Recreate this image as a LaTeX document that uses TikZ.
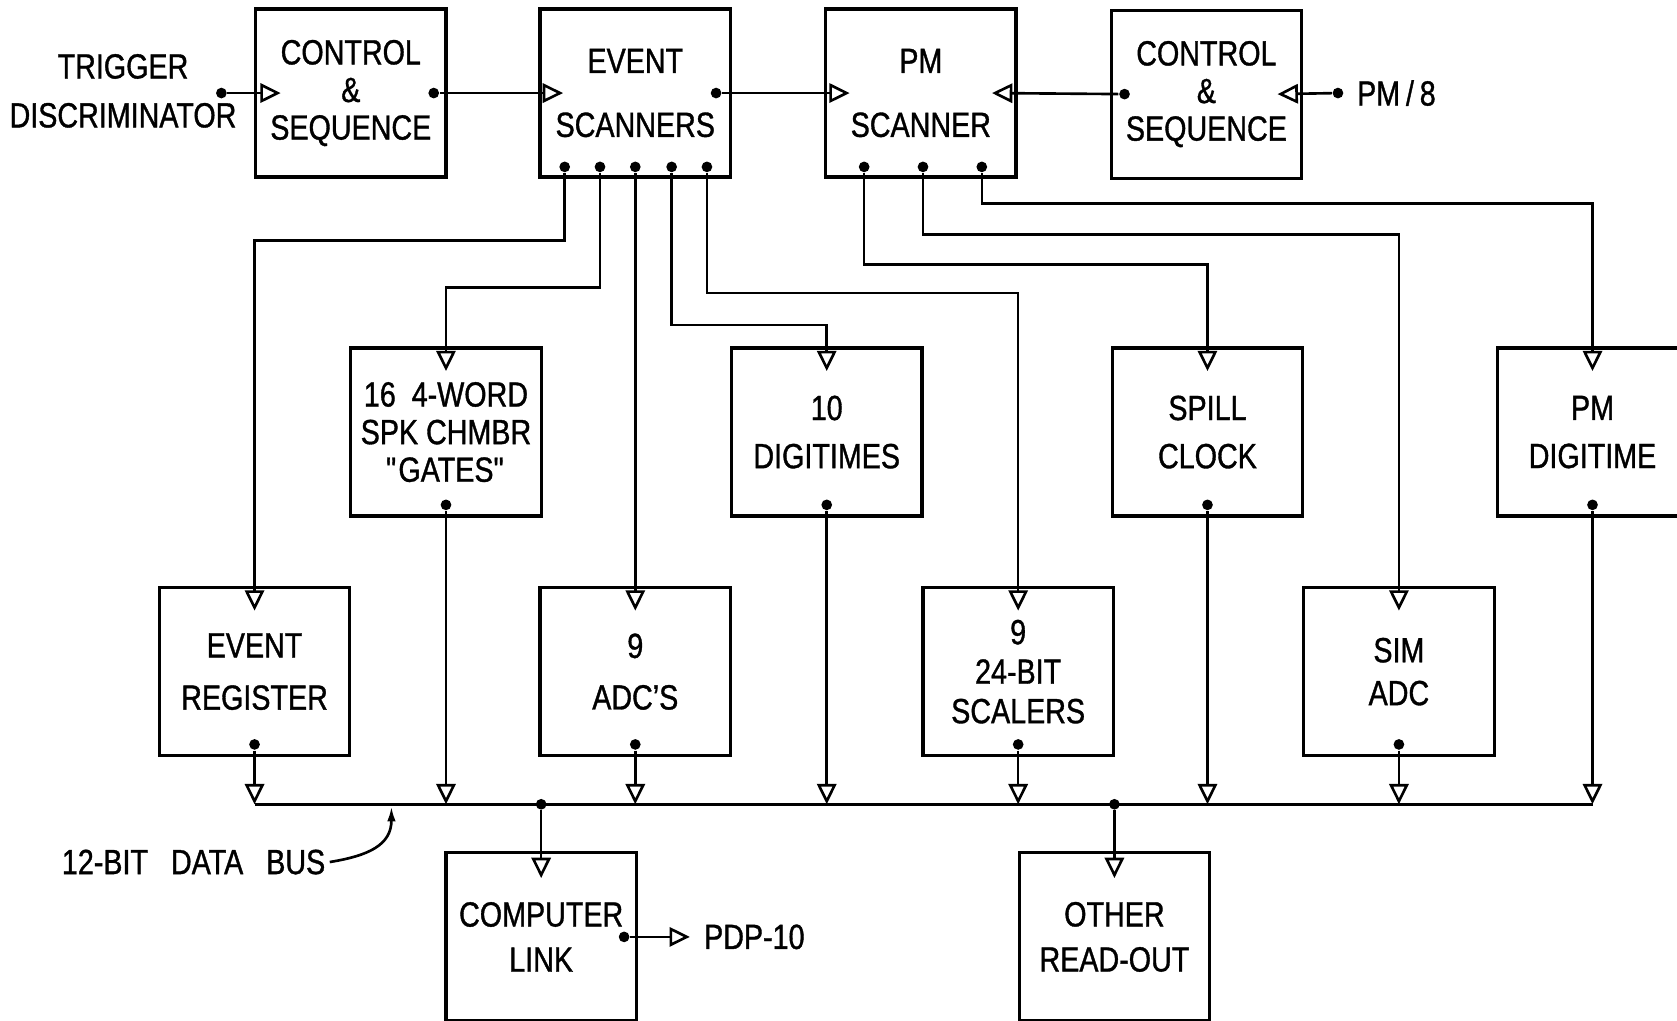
\documentclass[tikz,border=0pt]{standalone}
\usepackage{fontspec}
\setmainfont{Liberation Sans}[FakeStretch=0.82, FakeBold=1]
\usetikzlibrary{positioning, arrows.meta, calc}

\begin{document}
\begin{tikzpicture}[x=0.01cm, y=-0.01cm,
  box/.style={draw, line width=0.85pt, minimum width=1.78cm, minimum height=1.57cm, inner sep=0pt, align=center, font=\fontsize{9.3}{10}\selectfont},
  lbl/.style={inner sep=1pt, align=center, font=\fontsize{9.3}{10}\selectfont},
  dot/.style={circle, fill, inner sep=0pt, minimum size=0.1cm},
  wire/.style={line width=0.7pt},
  arr/.style={wire, -{Triangle[open, length=0.19cm, width=0.18cm]}},
  bus/.style={line width=0.85pt}
]
  \useasboundingbox (0,0) rectangle (1568,954);

  % top row
  \node[lbl] (trig) at (115,85) {TRIGGER\\[3pt]DISCRIMINATOR};
  \node[box] (cs1) at (328,87) {CONTROL\\\&\\SEQUENCE};
  \node[box] (evsc) at (594,87) {EVENT\\[7pt]SCANNERS};
  \node[box] (pmsc) at (861,87) {PM\\[7pt]SCANNER};
  \node[box] (cs2) at (1128,88) {CONTROL\\\&\\SEQUENCE};

  % second row
  \node[box] (gates) at (417,404) {16\ \ 4-WORD\\SPK CHMBR\\\textquotedbl GATES\textquotedbl};
  \node[box] (digi) at (773,404) {10\\[2.8pt]DIGITIMES};
  \node[box] (spill) at (1129,404) {SPILL\\[2.8pt]CLOCK};
  \node[box] (pmdig) at (1489,404) {PM\\[2.8pt]DIGITIME};

  % third row
  \node[box] (evreg) at (238,628) {EVENT\\[3.9pt]REGISTER};
  \node[box] (adc) at (594,628) {9\\[3.7pt]ADC'S};
  \node[box] (scal) at (952,628) {9\\[0.5pt]24-BIT\\[0.5pt]SCALERS};
  \node[box] (simadc) at (1308,628) {SIM\\[1.4pt]ADC};

  % readout row
  \node[box] (link) at (506,876) {COMPUTER\\[2pt]LINK};
  \node[box] (other) at (1042,876) {OTHER\\[2pt]READ-OUT};
  \node[lbl, inner xsep=3.6pt, anchor=west] (pdp) at (645,876) {PDP-10};
  \node[lbl] (busnote) at (181,806) {12-BIT\hspace{4pt} DATA\hspace{4pt} BUS};

  % dots (outputs)
  \node[dot] (trigdot) at (207,87) {};
  \node[dot] (cs1out) at ($(cs1.east)+(-13,0)$) {};
  \node[dot] (evscout) at ($(evsc.east)+(-15,0)$) {};
  \node[dot] (cs2out) at ($(cs2.west)+(14,0)$) {};
  \node[dot] (pm8dot) at (1251,87) {};
  \node[lbl, right=0.08cm of pm8dot] (pm8) {PM\,/\,8};

  \node[dot] (es1) at ($(evsc.south)+(-66,-11)$) {};
  \node[dot] (es2) at ($(evsc.south)+(-33,-11)$) {};
  \node[dot] (es3) at ($(evsc.south)+(0,-11)$) {};
  \node[dot] (es4) at ($(evsc.south)+(34,-11)$) {};
  \node[dot] (es5) at ($(evsc.south)+(67,-11)$) {};
  \node[dot] (pm1) at ($(pmsc.south)+(-53,-11)$) {};
  \node[dot] (pm2) at ($(pmsc.south)+(2,-11)$) {};
  \node[dot] (pm3) at ($(pmsc.south)+(57,-11)$) {};

  \node[dot] (gatesout) at ($(gates.south)+(0,-12)$) {};
  \node[dot] (digiout) at ($(digi.south)+(0,-12)$) {};
  \node[dot] (spillout) at ($(spill.south)+(0,-12)$) {};
  \node[dot] (pmdigout) at ($(pmdig.south)+(0,-12)$) {};
  \node[dot] (evregout) at ($(evreg.south)+(0,-12)$) {};
  \node[dot] (adcout) at ($(adc.south)+(0,-12)$) {};
  \node[dot] (scalout) at ($(scal.south)+(0,-12)$) {};
  \node[dot] (simadcout) at ($(simadc.south)+(0,-12)$) {};
  \node[dot] (linkout) at ($(link.east)+(-13,0)$) {};

  % inputs (triangle tips)
  \coordinate (cs1in) at ($(cs1.west)+(25,0)$);
  \coordinate (evscin) at ($(evsc.west)+(23,0)$);
  \coordinate (pmscin) at ($(pmsc.west)+(24,0)$);
  \coordinate (pmscin2) at ($(pmsc.east)+(-24,0)$);
  \coordinate (cs2in) at ($(cs2.east)+(-24,0)$);
  \coordinate (gatesin) at ($(gates.north)+(0,23)$);
  \coordinate (digiin) at ($(digi.north)+(0,23)$);
  \coordinate (spillin) at ($(spill.north)+(0,23)$);
  \coordinate (pmdigin) at ($(pmdig.north)+(0,23)$);
  \coordinate (evregin) at ($(evreg.north)+(0,23)$);
  \coordinate (adcin) at ($(adc.north)+(0,23)$);
  \coordinate (scalin) at ($(scal.north)+(0,23)$);
  \coordinate (simadcin) at ($(simadc.north)+(0,23)$);
  \coordinate (linkin) at ($(link.north)+(0,25)$);
  \coordinate (otherin) at ($(other.north)+(0,25)$);

  \draw[arr] (trigdot) -- (cs1in);
  \draw[arr] (cs1out) -- (evscin);
  \draw[arr] (evscout) -- (pmscin);
  \draw[arr] (cs2out) -- (pmscin2);
  \draw[arr] (pm8dot) -- (cs2in);

  \draw[arr] (es1) -- ++(0,69) -| (evregin);
  \draw[arr] (es2) -- ++(0,113) -| (gatesin);
  \draw[arr] (es3) -- (adcin);
  \draw[arr] (es4) -- ++(0,148) -| (digiin);
  \draw[arr] (es5) -- ++(0,118) -| (scalin);
  \draw[arr] (pm1) -- ++(0,91) -| (spillin);
  \draw[arr] (pm2) -- ++(0,63) -| (simadcin);
  \draw[arr] (pm3) -- ++(0,34) -| (pmdigin);

  % data bus
  \coordinate (busL) at (238,752);
  \coordinate (busR) at (1489,752);
  \draw[bus] (busL) -- (busR);
  \draw[arr] (evregout) -- (evregout |- busL);
  \draw[arr] (gatesout) -- (gatesout |- busL);
  \draw[arr] (adcout) -- (adcout |- busL);
  \draw[arr] (digiout) -- (digiout |- busL);
  \draw[arr] (scalout) -- (scalout |- busL);
  \draw[arr] (spillout) -- (spillout |- busL);
  \draw[arr] (simadcout) -- (simadcout |- busL);
  \draw[arr] (pmdigout) -- (pmdigout |- busL);

  \node[dot] (tap1) at (link.north |- busL) {};
  \node[dot] (tap2) at (other.north |- busL) {};
  \draw[arr] (tap1) -- (linkin);
  \draw[arr] (tap2) -- (otherin);
  \draw[arr] (linkout) -- (pdp);

  \coordinate (busmark) at (366,754);
  \draw[wire, -{Latex[length=0.14cm, width=0.08cm]}] (busnote.east) .. controls (345,800) and (366,790) .. (busmark);
\end{tikzpicture}
\end{document}
